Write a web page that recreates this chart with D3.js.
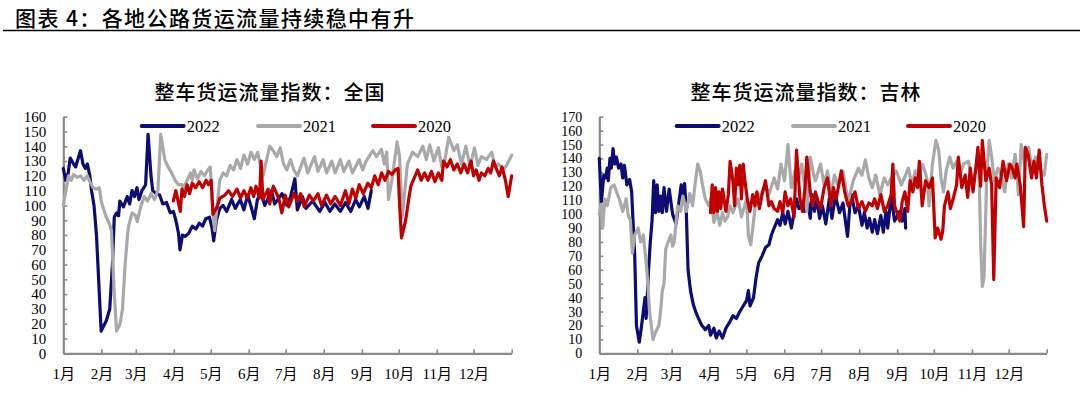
<!DOCTYPE html>
<html><head><meta charset="utf-8">
<script src="https://cdn.jsdelivr.net/npm/d3@7/dist/d3.min.js"></script>
<style>body{margin:0;background:#fff;overflow:hidden}</style>
</head><body><svg id="c" width="1080" height="397"></svg>
<script>
const mainTitle = "图表 4：各地公路货运流量持续稳中有升";
const chartTitles = ["整车货运流量指数：全国", "整车货运流量指数：吉林"];
const monthLabels = ["1月","2月","3月","4月","5月","6月","7月","8月","9月","10月","11月","12月"];
const monthStartDays = [0,31,59,90,120,151,181,212,243,273,304,334,365];
const seriesNames = ["2022","2021","2020"];
const seriesColors = ["#0c0c74","#a9a9a9","#c00000"];
const qgYTicks = [0,10,20,30,40,50,60,70,80,90,100,110,120,130,140,150,160];
const jlYTicks = [0,10,20,30,40,50,60,70,80,90,100,110,120,130,140,150,160,170];

// 全国 — [day of year, index]
const qg2022 = [[0,125],[2,117],[4,122],[5.6,132],[8.4,128],[10,126],[14,137],[16,128],[18,125],[19.6,128],[21.6,120],[23,110],[25,100],[27,80],[30.8,15],[32,17],[35,22],[37.8,30],[40,60],[41.5,92],[43.4,95],[45,93],[46,103],[49,99],[52,106],[54,101],[56,110],[58,106],[60,112],[61.6,104],[64,110],[67,114],[69,148],[71.4,120],[72.8,110],[75.6,108],[78.4,107],[81,101],[84,102],[87,95],[89.6,96],[91.6,90],[93.8,81],[95,70],[97,80],[99,79],[102,81],[105,86],[108,84],[110.6,88],[113.4,86],[116,91],[119,92],[121,85],[122.4,76],[124.6,90],[127.4,98],[130,100],[133,96],[137,104],[140,98],[144,104],[147,97],[150,107],[152.6,100],[155.5,91],[158,104],[161,108],[164,100],[169.5,110],[172,101],[178,108],[182,100],[185,106],[188.5,118],[190.5,97],[194.7,106],[197.5,98],[203,103],[208.7,96],[213,102],[217,96],[221,101],[225.5,96],[229.7,102],[234,96],[238,104],[241,99],[245,106],[248,98],[250.7,110]];
const qg2021 = [[0,100],[4.2,120],[6.4,117],[8.4,121],[11.2,119],[14,120],[16.8,117],[19.6,120],[21.6,116],[24.4,112],[27.2,111],[29.4,112],[30.8,103],[33,97],[35,92],[37.3,88],[39.2,83],[41.5,40],[43.4,15],[46.2,20],[48.2,30],[50.4,61],[52.4,81],[53.2,86],[56,95],[58.8,93],[60.2,89],[63,99],[65.8,106],[68.6,103],[71.4,108],[74.2,104],[77,110],[79.3,148],[82.6,131],[85.4,126],[88.2,122],[91,117],[93.8,114],[96.6,114],[98,112],[100.8,117],[103.6,122],[105,117],[106.4,124],[109.2,118],[112,123],[114.8,120],[117.6,124],[119.6,126],[121.8,97],[123.2,83],[125.2,100],[127.4,117],[130.2,122],[133,120],[135.8,127],[138.6,124],[141.4,131],[144.3,125],[147,134],[150,128],[152.7,136],[155.5,131],[158.3,136],[159.7,130],[162.5,120],[168,140],[170.9,137],[173.7,133],[176.5,139],[179.3,128],[182,124],[184.9,131],[187.7,124],[190.5,120],[196,132],[198.9,122],[204.5,133],[207.3,123],[211.5,131],[214.3,122],[218.5,130],[221.3,122],[225.5,131],[228.3,123],[232.5,130],[235.3,122],[240.9,131],[243.7,124],[246.5,130],[252,137],[254.9,133],[259,138],[261.3,128],[263.3,136],[264.7,104],[267.5,117],[271.7,143],[273.7,133],[275.9,92],[280.1,128],[284.3,136],[288.5,133],[292.7,140],[295.5,131],[298.3,141],[301.7,130],[305.3,139],[308.1,126],[310.9,132],[313.7,146],[317.9,137],[320.7,141],[324.1,128],[327.7,140],[331.1,126],[334.7,139],[337.5,127],[340.3,133],[344.5,131],[348.7,136],[351.5,126],[354.3,128],[358.5,124],[361.3,128],[365,134]];
const qg2020 = [[89.6,103],[91.6,110],[95.2,96],[96.6,111],[98.6,106],[100.8,114],[102.8,108],[105,115],[107.8,112],[110.6,116],[113.4,112],[116.2,117],[118.2,114],[120.4,117],[121.8,94],[125.2,99],[127.4,105],[131.6,107],[134.5,110],[137.8,106],[141.4,111],[144.3,105],[147,110],[149.9,105],[152.7,112],[154.9,106],[156.9,113],[159.7,105],[161,130],[162.5,104],[166.7,111],[168,101],[170.9,113],[173.7,108],[175.6,104],[177.9,95],[180.7,107],[183.5,99],[187.7,108],[190.5,103],[193.3,108],[196.1,99],[200.3,107],[203.6,103],[207.3,108],[210.1,100],[214.3,107],[217.6,101],[221.3,106],[225.5,100],[229.7,110],[232.5,101],[235.3,111],[238.1,105],[240.9,114],[244.2,108],[247.9,115],[250.7,112],[253.5,120],[256.3,114],[259.1,122],[261.9,117],[264.7,123],[267.5,121],[270.3,124],[272.5,125],[273.7,101],[275.3,78],[278.7,90],[281.5,106],[282.9,113],[284.3,116],[288.5,124],[291.3,117],[294.1,122],[296.9,117],[299.7,123],[302.5,116],[305.3,122],[308.1,117],[309.5,130],[312.3,126],[315.1,131],[317.9,124],[320.7,128],[323.5,122],[326.3,128],[329.1,122],[331.9,130],[333.9,120],[336.1,124],[338.4,117],[340.3,122],[343.1,120],[345.9,125],[347.9,122],[350.1,130],[352.9,124],[354.9,120],[357.1,126],[359.9,117],[362.1,106],[365,120]];

// 吉林 — [day of year, index]
const jl2022 = [[0,140],[1.7,109],[3.7,128],[5.1,126],[6.5,133],[7.3,124],[8.7,140],[9.8,133],[11.2,147],[12.6,136],[14,141],[15.7,133],[17.7,136],[19.1,126],[20.5,135],[22.5,121],[24.7,125],[26.4,116],[27.5,95],[28.9,70],[30.3,20],[32.6,8],[34.5,20],[35.9,30],[37.3,40],[38.2,25],[40.2,60],[41.6,80],[43,95],[44.4,124],[45.8,101],[47.2,121],[48.6,102],[50,113],[51.4,101],[52.8,119],[54.8,102],[57,118],[59.8,100],[62.6,93],[64,102],[66.8,121],[68.2,109],[69.6,122],[71,101],[72.4,60],[74.4,45],[76.7,35],[78.6,30],[80.9,25],[83.7,20],[86.5,17],[89.3,20],[90.7,13],[93.5,18],[95.5,11],[97.7,16],[100.5,11],[103.3,18],[106.1,22],[109,27],[111.8,25],[114.6,30],[117.4,34],[120.2,38],[121.6,45],[123,34],[125.8,40],[128,55],[130,65],[132.8,70],[135.6,76],[138.4,78],[140.4,85],[142.6,90],[145.5,96],[147.4,92],[149.7,101],[151.6,93],[153.9,102],[156.7,90],[160.9,111],[162.9,104],[165.1,106],[167.4,102],[169.3,113],[172.1,97],[173.5,114],[175.5,102],[177.7,111],[179.7,97],[182,106],[184.8,93],[187.6,111],[189.8,97],[192.6,113],[196,101],[198.8,108],[202.5,84],[204.4,106],[205.8,114],[208.6,101],[211.4,106],[214.3,92],[216.2,101],[218.5,90],[220.4,97],[222.7,87],[224.6,96],[226.9,86],[229.7,99],[231.7,87],[233.9,102],[235.3,90],[238.1,113],[240.9,95],[245.1,102],[247.1,95],[249.3,104],[249.9,90]];
const jl2021 = [[0,100],[1.7,107],[2.8,90],[4.5,111],[6.5,106],[9.3,119],[12.1,121],[14,116],[16.3,111],[19.1,102],[21.9,111],[23.6,99],[25.3,96],[27,72],[28.9,85],[31.7,90],[33.7,80],[35.9,85],[38.8,60],[41,30],[43.8,10],[45.8,15],[48.6,20],[50,30],[51.4,45],[52.8,50],[54.2,75],[57,82],[58.4,85],[59.8,77],[61.2,80],[62.6,94],[64,106],[66.3,102],[68.2,113],[71,102],[73.8,115],[76.1,106],[78.1,121],[80.3,136],[82.3,131],[84.2,121],[86.5,111],[89.3,106],[91.3,112],[93.5,94],[96.3,101],[98.3,92],[100.5,101],[102.5,95],[104.7,98],[106.7,106],[109,101],[113.2,111],[116,98],[120.2,111],[121.6,85],[123.6,78],[125.2,90],[127.2,106],[131.4,114],[135.6,121],[138.4,114],[142.6,126],[145.5,118],[148.2,136],[151.1,124],[153.9,150],[156.7,119],[159.5,131],[162.3,124],[165.1,136],[167.4,121],[169.3,102],[172.1,141],[174.9,128],[176.3,124],[180.5,136],[183.4,121],[186.2,131],[189,114],[191.8,128],[194.6,121],[198.8,131],[203,109],[207.2,124],[211.4,133],[214.3,128],[217.1,139],[219.9,126],[222.7,119],[225.5,128],[228.9,114],[232.5,126],[235.3,121],[238.1,126],[242.3,131],[246.5,121],[252.2,133],[255,121],[257.8,131],[260.6,124],[263.4,136],[265.6,131],[267.6,124],[269,106],[271.8,136],[274.6,153],[276.9,146],[278.8,126],[280.8,116],[283,131],[285.9,141],[288.7,133],[291.5,138],[294.3,128],[297.1,136],[301.3,138],[304.1,121],[306.9,131],[309.7,136],[311.1,80],[312.5,48],[313.9,55],[314.8,85],[316.2,131],[318.1,153],[320.1,141],[322.3,124],[325.2,133],[328,128],[330.8,116],[333.6,136],[336.4,126],[339.2,143],[340.6,131],[341.9,114],[344.2,150],[347,136],[350.3,148],[353.2,131],[356,141],[360.2,131],[363,128],[365,143]];
const jl2020 = [[90.7,101],[92.1,121],[93.5,101],[94.9,119],[96.3,102],[97.7,116],[99.1,104],[100.5,118],[103.3,102],[105.3,114],[106.7,138],[109,124],[110.4,106],[111.8,133],[113.2,121],[114.6,135],[116,111],[117.4,136],[118.8,124],[120.7,111],[122.9,102],[125.2,114],[126.9,106],[128.6,116],[130.6,104],[132.8,114],[135.6,124],[138.4,106],[140.4,109],[142.6,104],[145.5,102],[147.4,109],[149.7,101],[151.6,116],[153.9,106],[156.1,111],[158.9,98],[160.9,146],[163.7,111],[165.7,102],[167.9,119],[169.3,141],[172.1,116],[174.1,106],[176.3,116],[178.6,109],[180.5,104],[183.4,119],[186.2,126],[189,106],[190.9,119],[193.2,111],[195.4,121],[197.4,131],[200.2,116],[203,106],[205.8,109],[208.6,116],[211.4,104],[214.3,109],[217.1,102],[219.9,108],[222.7,106],[224.6,111],[226.9,104],[229.7,114],[232.5,102],[235.3,106],[238.1,114],[239.5,136],[240.9,106],[245.1,95],[247.1,109],[249.3,116],[251.6,102],[253.6,124],[255.8,116],[257.8,126],[259.7,119],[261.1,138],[263.4,106],[266.2,124],[269,119],[271.8,126],[274,83],[276,90],[278.8,82],[280.2,88],[281.6,106],[284.5,116],[286.4,104],[288.7,111],[291.5,121],[292.9,141],[295.7,119],[298.5,128],[300.5,112],[302.7,133],[304.9,116],[306.9,131],[308.9,148],[311.1,120],[312.5,153],[315.3,124],[318.1,133],[320.1,121],[321.8,53],[323.8,126],[326.6,119],[329.4,138],[330.8,131],[332.2,124],[335,136],[337,133],[339.2,126],[340.6,136],[343.4,121],[346.2,91],[347.6,148],[349.8,143],[352.7,126],[354.6,138],[356.6,126],[358.9,146],[361.1,121],[363.1,106],[365,95]];

const svg = d3.select("#c");
const CJK = "'Noto Sans CJK SC', 'Noto Sans CJK JP', sans-serif";
const SERIF = "'Liberation Serif', 'Times New Roman', 'Noto Sans CJK SC', serif";

// main title
svg.append("text").attr("x", 15).attr("y", 26)
  .style("font-family", CJK).style("font-size", "21px").style("font-weight", 500)
  .style("letter-spacing", "1.4px").attr("fill", "#000").text(mainTitle);
svg.append("line").attr("x1", 3).attr("x2", 1080).attr("y1", 30.5).attr("y2", 30.5)
  .attr("stroke", "#000").attr("stroke-width", 1.3);

const charts = [
  {x0: 63.3, x1: 511.7, ymax: 160, yTicks: qgYTicks, yFont: 15, title: chartTitles[0], tx: 270, data: [qg2022, qg2021, qg2020], legX: [141.7, 258, 373]},
  {x0: 599.3, x1: 1046.7, ymax: 170, yTicks: jlYTicks, yFont: 14, title: chartTitles[1], tx: 806, data: [jl2022, jl2021, jl2020], legX: [676.7, 793, 908]}
];
const yTop = 116.7, yBot = 353.3;

charts.forEach(c => {
  const x = d3.scaleLinear().domain([0, 365]).range([c.x0, c.x1]);
  const y = d3.scaleLinear().domain([0, c.ymax]).range([yBot, yTop]);
  const g = svg.append("g");

  g.append("text").attr("x", c.tx).attr("y", 100).attr("text-anchor", "middle")
    .style("font-family", CJK).style("font-size", "20px").style("font-weight", 500)
    .style("letter-spacing", "1px").text(c.title);

  const xa = g.append("g").attr("transform", `translate(0,${yBot})`)
    .call(d3.axisBottom(x).tickValues(monthStartDays).tickSizeInner(-4).tickSizeOuter(0)
      .tickPadding(15).tickFormat((d, i) => monthLabels[i] || ""));
  const ya = g.append("g").attr("transform", `translate(${c.x0},0)`)
    .call(d3.axisLeft(y).tickValues(c.yTicks).tickSizeInner(-4).tickSizeOuter(0)
      .tickPadding(17).tickFormat(d3.format("d")));
  [xa, ya].forEach(a => {
    a.select(".domain").attr("stroke", "#8a8a8a").attr("stroke-width", 2.2);
    a.selectAll(".tick line").attr("stroke", "#8a8a8a").attr("stroke-width", 1.6);
    a.selectAll(".tick text").attr("fill", "#000").style("font-family", SERIF);
  });
  xa.selectAll(".tick text").style("font-size", "15px");
  ya.selectAll(".tick text").style("font-size", c.yFont + "px");

  const line = d3.line().x(d => x(d[0])).y(d => y(d[1])).curve(d3.curveLinear);
  c.data.forEach((s, i) => {
    g.append("path").datum(s).attr("d", line).attr("fill", "none")
      .attr("stroke", seriesColors[i]).attr("stroke-width", 3.2)
      .attr("stroke-linejoin", "round").attr("stroke-linecap", "round");
  });

  seriesNames.forEach((n, i) => {
    const lx = c.legX[i];
    g.append("line").attr("x1", lx).attr("x2", lx + 42).attr("y1", 126).attr("y2", 126)
      .attr("stroke", seriesColors[i]).attr("stroke-width", 4).attr("stroke-linecap", "round");
    g.append("text").attr("x", lx + 45).attr("y", 131.5)
      .style("font-family", SERIF).style("font-size", "16.5px").attr("fill", "#000").text(n);
  });
});
</script></body></html>
